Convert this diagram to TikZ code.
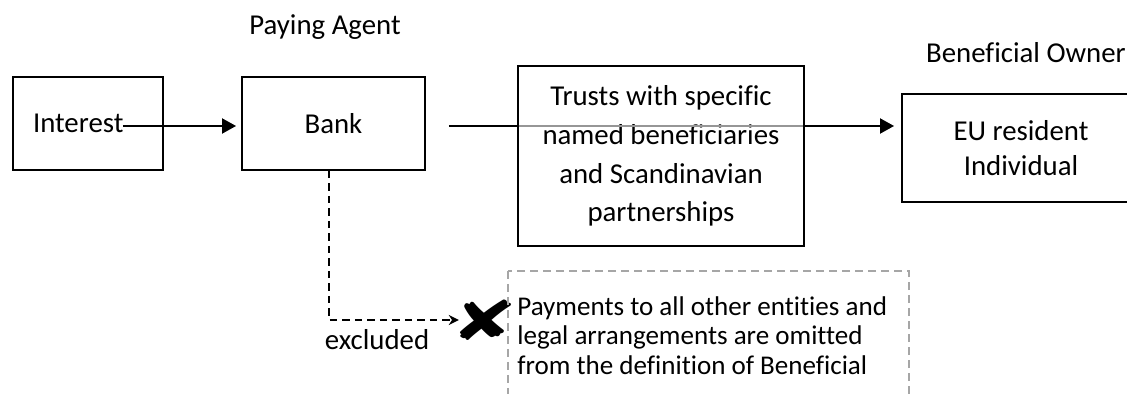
\documentclass[tikz,border=0pt]{standalone}
\usepackage{fontspec}
\usepackage{graphicx}
\setmainfont[Ligatures=NoCommon]{Carlito}
\newfontfamily\symfont{DejaVu Sans}
\usetikzlibrary{arrows.meta}
\definecolor{NoteClr}{RGB}{166,166,166}
\definecolor{LineClr}{RGB}{150,150,150}

\begin{document}
\begin{tikzpicture}[x=0.02cm,y=-0.02cm,
  font=\fontsize{16.4}{19.7}\selectfont,
  box/.style={draw,line width=1.1pt,align=center,inner sep=0pt},
  flow/.style={line width=1.1pt,-{Triangle[length=0.28cm,width=0.3cm]}},
  excl/.style={line width=1.1pt,dash pattern=on 0.15cm off 0.1cm,-{Stealth[length=0.2cm,width=0.2cm]}},
  notebox/.style={draw=NoteClr,line width=1.1pt,dash pattern=on 0.16cm off 0.1cm}]
\useasboundingbox (0,0) rectangle (1127,394);

% Boxes of the chain.
\node[box,minimum width=3cm,minimum height=1.86cm,text width=2.2cm,align=left] (interest) at (88,123.5) {Interest};
\node[box,minimum width=3.66cm,minimum height=1.86cm] (bank) at (333.5,123.5) {Bank};
\node[box,minimum width=5.72cm,minimum height=3.6cm,font=\fontsize{16.4}{22.1}\selectfont] (trusts) at (661,156)
  {Trusts with specific\\named beneficiaries\\and Scandinavian\\partnerships};
\node[box,minimum width=4.76cm,minimum height=2.16cm,font=\fontsize{16.4}{19.9}\selectfont] (owner) at (1021,148)
  {EU resident\\Individual};

% Headings.
\node[anchor=base] (agent) at (325,35) {Paying Agent};
\node[anchor=base west] (ownerlbl) at (920,63) {Beneficial Owner};

% Payment flow.
\draw[flow] ([xshift=0.7cm,yshift=-0.05cm]interest.center) -- ([xshift=-0.1cm,yshift=-0.05cm]bank.west);
\coordinate (mainy) at ([yshift=-0.05cm]bank.east);
\coordinate (ownerin) at (mainy -| owner.west);
\draw[flow] ([xshift=0.46cm]mainy) -- ([xshift=-0.14cm]ownerin);
\draw[LineClr,line width=1.1pt,shorten <=0.03cm,shorten >=0.03cm] (mainy -| trusts.west) -- (mainy -| trusts.east);

% Excluded branch.
\node[inner sep=0pt,font=\symfont\fontsize{40}{40}\selectfont] (cross) at (484,320) {\scalebox{1.15}[0.78]{✘}};
\draw[excl] ([xshift=-0.09cm]bank.south) |- ([xshift=0.18cm]cross.west);
\node[anchor=base] (excllbl) at (377,350) {excluded};

% Note on the other entities.
\node[anchor=north west,inner xsep=0.18cm,inner ysep=0.5cm,align=left,font=\fontsize{15.4}{17}\selectfont] (note) at (508,271)
  {Payments to all other entities and\\legal arrangements are omitted\\from the definition of Beneficial};
\draw[notebox] (note.north west) rectangle ++(401,160);

\end{tikzpicture}
\end{document}
